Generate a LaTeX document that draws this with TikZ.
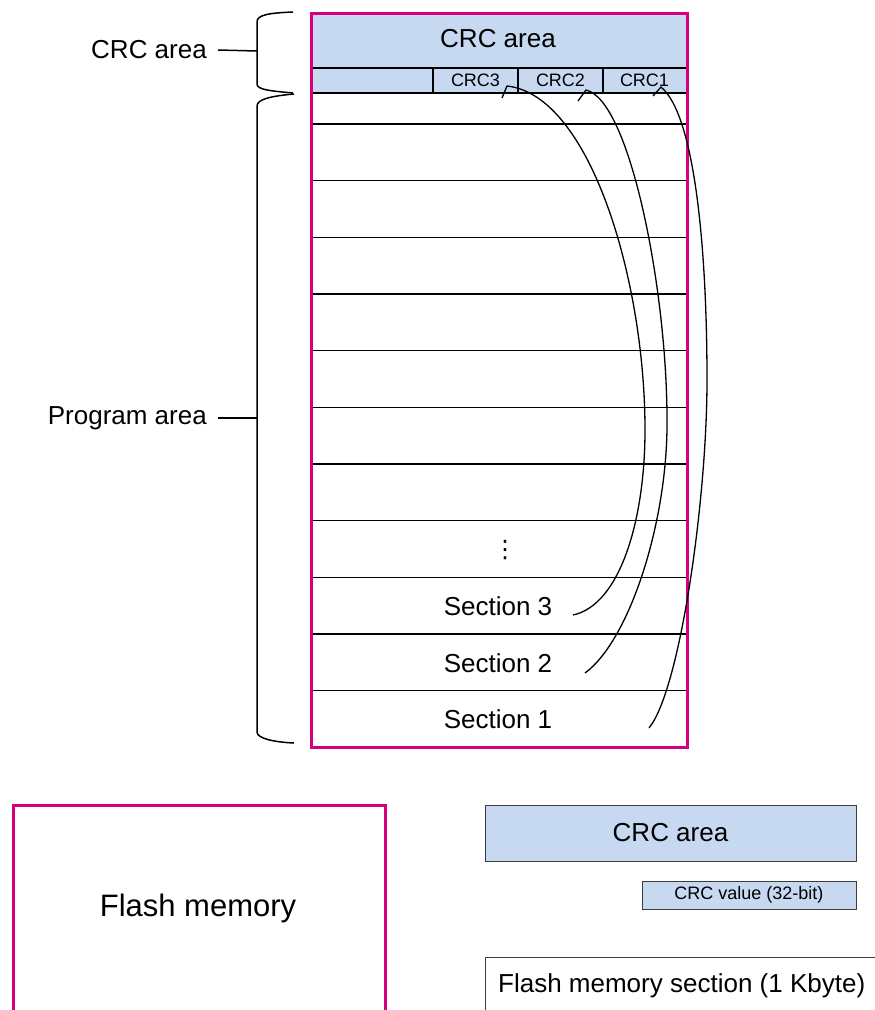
\documentclass[tikz,border=0pt]{standalone}
\usepackage{fontspec}
\setmainfont{Liberation Sans}
\newfontfamily\dejavu{DejaVu Sans}
\definecolor{mag}{RGB}{214,0,127}
\definecolor{crcblue}{RGB}{198,217,240}
\definecolor{dkgray}{RGB}{60,60,60}
\begin{document}
\begin{tikzpicture}[x=1pt,y=-1pt,
  lbl/.style={inner sep=0pt, font=\fontsize{26}{30}\selectfont},
  biglbl/.style={inner sep=0pt, font=\fontsize{31}{36}\selectfont},
  small/.style={inner sep=0pt, font=\fontsize{18}{21}\selectfont},
  magbox/.style={draw=mag, line width=3pt, inner sep=0pt},
  rowline/.style={line width=1.3pt},
  curve/.style={line width=1.3pt},
  bracestyle/.style={line width=1.5pt},
  legbox/.style={draw=dkgray, line width=1pt, inner sep=0pt}]
\useasboundingbox (0,0) rectangle (875,1010);
\clip (0,0) rectangle (875,1010);

% ---- main memory block ----
\fill[crcblue] (310,12) rectangle (686,93);
\draw[rowline] (310,68) -- (686,68);
\draw[rowline] (310,93) -- (686,93);
\foreach \x in {433,518,603} \draw[rowline] (\x,68) -- (\x,93);
\foreach \y in {124,180.7,237.3,294,350.7,407.3,464,520.7,577.3,634,690.7}
  \draw[rowline] (310,\y) -- (686,\y);

\node[lbl] (crctop) at (498,39) {CRC area};
\node[small] (crc3) at (475.5,80.5) {CRC3};
\node[small] (crc2) at (560.5,80.5) {CRC2};
\node[small] (crc1) at (644.5,80.5) {CRC1};

\node[inner sep=0pt, font=\dejavu\fontsize{24}{28}\selectfont] (dots) at (505,550) {⋮};
\node[lbl] (sec3) at (498,606) {Section 3};
\node[lbl] (sec2) at (498,663) {Section 2};
\node[lbl] (sec1) at (498,719) {Section 1};

\node[magbox, minimum width=376pt, minimum height=734pt, anchor=north west] (mem) at (310,12) {};

% ---- curves ----
\coordinate (s3) at (573,615);
\coordinate (m3) at (645,430);
\coordinate (t3) at (507,86);
\coordinate (h3) at (502,98);
\draw[curve] (s3) .. controls (620,605) and (645,520) .. (m3)
  .. controls (645,280) and (590,95) .. (t3) -- (h3);

\coordinate (s2) at (585,673);
\coordinate (m2) at (667,420);
\coordinate (t2) at (586,90);
\coordinate (h2) at (578,101);
\draw[curve] (s2) .. controls (630,640) and (668,520) .. (m2)
  .. controls (667,290) and (630,100) .. (t2) -- (h2);

\coordinate (s1) at (649,728);
\coordinate (m1) at (707,380);
\coordinate (t1) at (661,87);
\coordinate (h1) at (653,96);
\draw[curve] (s1) .. controls (680,690) and (707,500) .. (m1)
  .. controls (707,250) and (695,115) .. (t1) -- (h1);

% ---- braces ----
\draw[bracestyle] (293,12) .. controls (268,13) and (257,15) .. (257,22)
  -- (257,84) .. controls (257,90) and (272,91) .. (293,93);
\draw[bracestyle] (294,94) .. controls (272,96) and (257,99) .. (257,106)
  -- (257,732) .. controls (257,738) and (272,742) .. (294,743);

\coordinate (bcrc) at (257,51);
\coordinate (bprog) at (257,418);
\node[lbl, anchor=east] (crclbl) at (207,50) {CRC area};
\node[lbl, anchor=east] (proglbl) at (207,418) {Program area};
\draw[bracestyle] ([xshift=11pt]crclbl.east) -- (bcrc);
\draw[bracestyle] ([xshift=11pt]proglbl.east) -- (bprog);

% ---- legend ----
\node[magbox, minimum width=372pt, minimum height=260pt, anchor=north west] (legflash) at (12,804) {};
\node[biglbl] (legflashtxt) at (198,908) {Flash memory};
\node[legbox, fill=crcblue, minimum width=371pt, minimum height=56pt, font=\fontsize{26}{30}\selectfont] (legcrc) at (670.5,833) {CRC area};
\node[legbox, fill=crcblue, minimum width=214pt, minimum height=28pt, font=\fontsize{18}{21}\selectfont] (legval) at (749,895) {CRC value (32-bit)};
\node[legbox, fill=white, minimum width=420pt, minimum height=100pt, anchor=north west] (legsec) at (485,957) {};
\node[lbl, anchor=west] (legsectxt) at (498,986) {Flash memory section (1 Kbyte)};
\end{tikzpicture}
\end{document}
